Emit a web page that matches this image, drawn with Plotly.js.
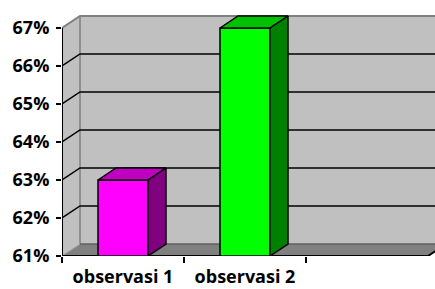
<!DOCTYPE html>
<html>
<head>
<meta charset="utf-8">
<script src="https://cdn.plot.ly/plotly-3.0.1.min.js"></script>
<style>html,body{margin:0;padding:0;background:#fff}#chart{width:435px;height:289px}</style>
</head>
<body>
<div id="chart"></div>
<script>
// ---- data ----
const categories = ['observasi 1', 'observasi 2'];
const values = [63, 67];
const yTicks = [61, 62, 63, 64, 65, 66, 67];
const frontColors = ['#ff00ff', '#00ff00'];
const topColors = ['#c000c0', '#00c000'];
const sideColors = ['#800080', '#008000'];

// ---- geometry (3D depth in axis units) ----
const Y0 = yTicks[0], Y1 = yTicks[yTicks.length - 1];
const PX_PER_CAT = 122, PX_PER_PCT = 38;
const DX = 18 / PX_PER_CAT, DY = 12 / PX_PER_PCT;
const XL = -0.5, XEND = 2.5;
const XMAX = XL + 373 / PX_PER_CAT;
const YMAX = Y1 + DY + 2 / PX_PER_PCT;
const BW = 50 / PX_PER_CAT;
const xs = categories.map((c, i) => i);

const traces = [];
// front faces as bars
traces.push({
  type: 'bar', x: xs, y: values.map(v => v - Y0), base: Y0, width: BW,
  marker: {color: frontColors, line: {color: '#000', width: 1.5}},
  hoverinfo: 'skip', showlegend: false
});
// top and side faces
xs.forEach((x, i) => {
  const v = values[i], l = x - BW / 2, r = x + BW / 2;
  traces.push({
    type: 'scatter', mode: 'lines', fill: 'toself', fillcolor: topColors[i],
    x: [l, l + DX, r + DX, r, l], y: [v, v + DY, v + DY, v, v],
    line: {color: '#000', width: 1.5}, hoverinfo: 'skip', showlegend: false
  });
  traces.push({
    type: 'scatter', mode: 'lines', fill: 'toself', fillcolor: sideColors[i],
    x: [r, r + DX, r + DX, r, r], y: [v, v + DY, Y0 + DY, Y0, v],
    line: {color: '#000', width: 1.5}, hoverinfo: 'skip', showlegend: false
  });
});

// ---- background shapes (walls, floor, gridlines) ----
const shapes = [];
const P = (pts) => 'M' + pts.map(p => p[0] + ',' + p[1]).join('L') + 'Z';
// back wall
shapes.push({type: 'rect', xref: 'x', yref: 'y', layer: 'below', x0: XL + DX, x1: XMAX + 1, y0: Y0 + DY, y1: Y1 + DY,
  fillcolor: '#c0c0c0', line: {width: 0}});
// side wall
shapes.push({type: 'path', xref: 'x', yref: 'y', layer: 'below',
  path: P([[XL, Y0], [XL + DX, Y0 + DY], [XL + DX, Y1 + DY], [XL, Y1]]), fillcolor: '#c0c0c0', line: {width: 0}});
// floor
shapes.push({type: 'path', xref: 'x', yref: 'y', layer: 'below',
  path: P([[XL, Y0], [XL + DX, Y0 + DY], [XEND + DX, Y0 + DY], [XEND, Y0]]), fillcolor: '#808080', line: {width: 0}});
// wall edge (gray)
shapes.push({type: 'line', xref: 'x', yref: 'y', layer: 'below', x0: XL + DX, x1: XL + DX, y0: Y0 + DY, y1: Y1 + DY, line: {color: '#808080', width: 1.5}});
// gridlines
yTicks.forEach(t => {
  const isTop = t === Y1, isBottom = t === Y0;
  const col = isTop ? '#808080' : (isBottom ? '#606060' : '#000');
  shapes.push({type: 'path', xref: 'x', yref: 'y', layer: 'below',
    path: 'M' + (isBottom ? (XL + DX) : XL) + ',' + (isBottom ? t + DY : t) + 'L' + (XL + DX) + ',' + (t + DY) + 'L' + (XMAX + 1) + ',' + (t + DY),
    line: {color: col, width: isTop ? 2 : 1.5}});
});
// floor left edge (light)
shapes.push({type: 'line', xref: 'x', yref: 'y', layer: 'below', x0: XL, x1: XL + DX, y0: Y0, y1: Y0 + DY, line: {color: '#a0a0a0', width: 1}});
// floor front edge
shapes.push({type: 'path', xref: 'x', yref: 'y', layer: 'below',
  path: 'M' + XL + ',' + Y0 + 'L' + XEND + ',' + Y0 + 'L' + (XEND + DX) + ',' + (Y0 + DY), line: {color: '#000', width: 2}});
// front value axis line
shapes.push({type: 'line', xref: 'x', yref: 'y', layer: 'above', x0: XL, x1: XL, y0: Y0, y1: Y1, line: {color: '#000', width: 2}});

const yFont = {family: 'Open Sans, sans-serif', size: 18, color: '#000', weight: 700};
const xFont = {family: 'Open Sans, sans-serif', size: 18, color: '#000', weight: 700};
const layout = {
  width: 435, height: 289,
  margin: {l: 62, r: 0, t: 14, b: 33, pad: 0},
  paper_bgcolor: '#fff', plot_bgcolor: 'rgba(0,0,0,0)',
  showlegend: false,
  xaxis: {
    type: 'linear', range: [XL, XMAX], showgrid: false, zeroline: false, showline: false,
    tickmode: 'array', tickvals: xs, ticktext: categories, ticks: '',
    tickfont: xFont, ticklabelstandoff: 8,
    minor: {tickmode: 'array', tickvals: categories.map((c, i) => i - 0.5).concat([categories.length - 0.5]).slice(0, categories.length + 1),
      ticks: 'outside', ticklen: 6, tickwidth: 1.5, tickcolor: '#000', showgrid: false},
    fixedrange: true
  },
  yaxis: {
    range: [Y0, YMAX], showgrid: false, zeroline: false, showline: false,
    tickmode: 'array', tickvals: yTicks, ticktext: yTicks.map(t => t + '%'),
    ticks: 'outside', ticklen: 5, tickwidth: 2, tickcolor: '#000',
    tickfont: yFont, ticklabelstandoff: 3, fixedrange: true
  },
  shapes: shapes
};
Plotly.newPlot('chart', traces, layout, {staticPlot: true, displayModeBar: false});
</script>
</body>
</html>
